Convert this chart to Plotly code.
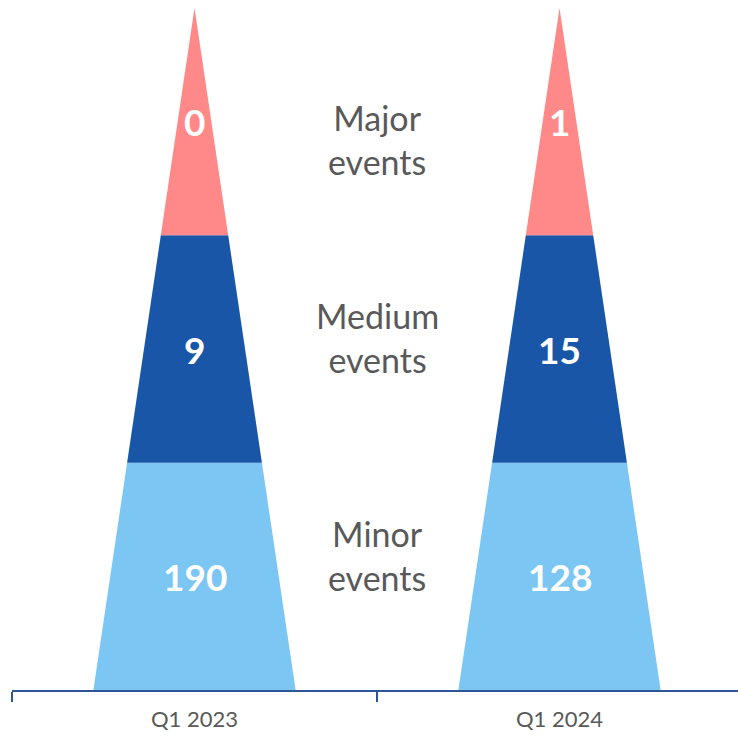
import plotly.graph_objects as go

# Data (bands listed bottom to top)
quarters = ['Q1 2023', 'Q1 2024']
severity_labels = ['Minor<br>events', 'Medium<br>events', 'Major<br>events']
counts_2023 = [190, 9, 0]
counts_2024 = [128, 15, 1]
band_colors = ['#7CC6F4', '#1A56A8', '#FF8888']

counts = [counts_2023, counts_2024]
n_bands = len(severity_labels)
HALF_BASE = 0.277  # half-width of the triangle base in x units
FONT = 'Lato, "Open Sans", sans-serif'
GREY = '#595959'


def half_width(y):
    return HALF_BASE * (1 - y / n_bands)


fig = go.Figure()
for qi, q in enumerate(quarters):
    for k in range(n_bands):
        y0, y1 = k, k + 1
        w0, w1 = half_width(y0), half_width(y1)
        fig.add_trace(go.Scatter(
            x=[qi - w0, qi + w0, qi + w1, qi - w1, qi - w0],
            y=[y0, y0, y1, y1, y0],
            fill='toself', fillcolor=band_colors[k],
            line=dict(width=0), mode='lines',
            hoverinfo='skip', showlegend=False,
        ))
        fig.add_annotation(
            x=qi, y=k + 0.5, text=f'<b>{counts[qi][k]}</b>', showarrow=False,
            font=dict(family=FONT, size=37, color='white'),
        )

# severity labels between the two pyramids
label_y = [0.59, 1.55, 2.42]
for k, lab in enumerate(severity_labels):
    fig.add_annotation(
        x=0.5, y=label_y[k], text=lab, showarrow=False,
        font=dict(family=FONT, size=34, color=GREY),
    )

fig.update_layout(
    width=738, height=737,
    margin=dict(l=12, r=0, t=8, b=47),
    plot_bgcolor='white', paper_bgcolor='white',
    xaxis=dict(
        range=[-0.5, 1.489], showgrid=False, zeroline=False,
        showline=True, linecolor='#2F5597', linewidth=2,
        tickvals=[0, 1], ticktext=quarters,
        ticks='outside', ticklen=9, tickcolor='rgba(0,0,0,0)',
        tickfont=dict(family=FONT, size=22, color=GREY),
        minor=dict(tickvals=[-0.5, 0.5, 1.5], ticks='outside', ticklen=10,
                   tickcolor='#2F5597', tickwidth=2),
    ),
    yaxis=dict(range=[0, 3], visible=False),
)

fig.write_html('out.html', config={'displayModeBar': False},
               post_script="document.body.style.margin='0';")
